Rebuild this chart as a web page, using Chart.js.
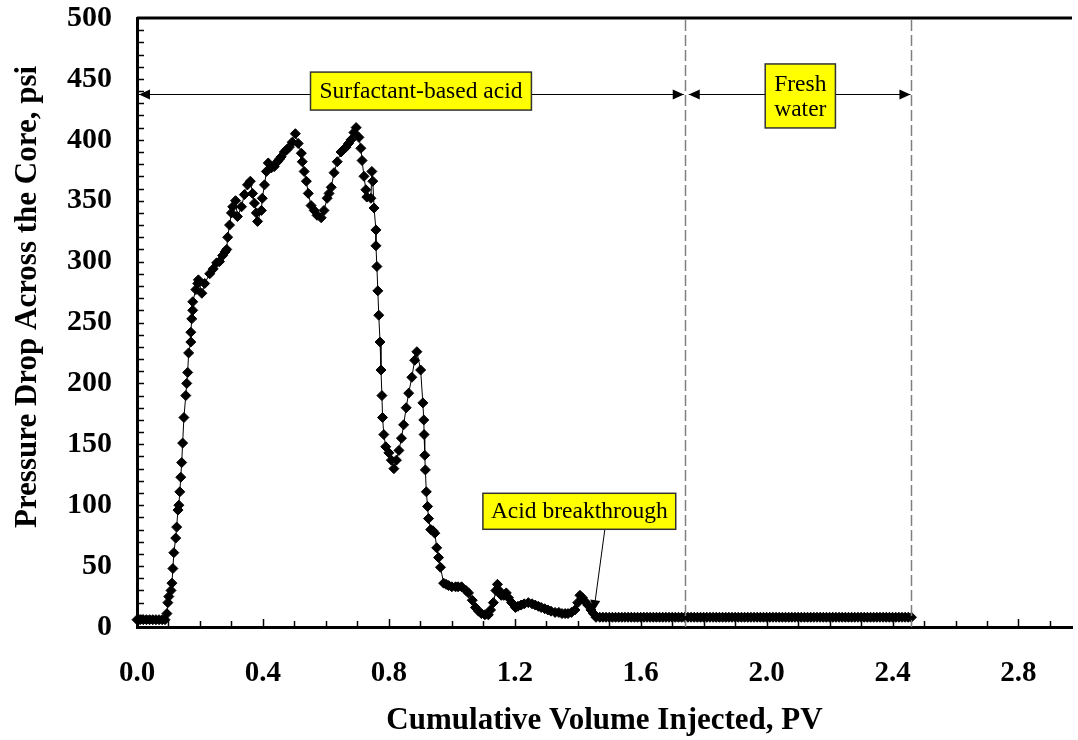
<!DOCTYPE html>
<html>
<head>
<meta charset="utf-8">
<title>Pressure drop across the core</title>
<script src="https://cdn.jsdelivr.net/npm/chart.js@4.4.0/dist/chart.umd.min.js"></script>
<style>
  html, body { margin: 0; padding: 0; background: #fff; }
</style>
</head>
<body>
<canvas id="chart" width="1078" height="740"></canvas>
<script>
var serif = '"Liberation Serif", "Times New Roman", serif';

// cumulative volume injected, PV
var pvInjected = [
  0.000, 0.010, 0.020, 0.030, 0.040, 0.050, 0.060, 0.070, 0.080, 0.089,
  0.095, 0.098, 0.101, 0.108, 0.111, 0.114, 0.117, 0.123, 0.126, 0.130,
  0.133, 0.136, 0.139, 0.142, 0.145, 0.149, 0.155, 0.158, 0.161, 0.164,
  0.171, 0.171, 0.174, 0.177, 0.177, 0.187, 0.193, 0.195, 0.206, 0.215,
  0.231, 0.242, 0.253, 0.262, 0.272, 0.280, 0.285, 0.288, 0.294, 0.300,
  0.304, 0.313, 0.319, 0.332, 0.341, 0.351, 0.360, 0.367, 0.373, 0.379,
  0.383, 0.395, 0.398, 0.405, 0.411, 0.417, 0.427, 0.436, 0.446, 0.452,
  0.458, 0.468, 0.476, 0.484, 0.493, 0.503, 0.512, 0.522, 0.525, 0.531,
  0.538, 0.544, 0.553, 0.563, 0.572, 0.585, 0.594, 0.604, 0.610, 0.617,
  0.626, 0.636, 0.648, 0.656, 0.664, 0.672, 0.680, 0.689, 0.696, 0.705,
  0.711, 0.715, 0.721, 0.727, 0.730, 0.743, 0.746, 0.749, 0.753, 0.759,
  0.759, 0.762, 0.765, 0.768, 0.772, 0.775, 0.778, 0.780, 0.784, 0.790,
  0.800, 0.808, 0.816, 0.824, 0.832, 0.840, 0.847, 0.855, 0.863, 0.873,
  0.882, 0.889, 0.901, 0.908, 0.911, 0.912, 0.914, 0.916, 0.919, 0.923,
  0.926, 0.933, 0.940, 0.946, 0.952, 0.958, 0.964, 0.974, 0.982, 0.990,
  1.000, 1.012, 1.020, 1.031, 1.045, 1.053, 1.065, 1.075, 1.085, 1.094,
  1.105, 1.116, 1.123, 1.132, 1.140, 1.145, 1.150, 1.157, 1.165, 1.173,
  1.180, 1.190, 1.202, 1.210, 1.220, 1.230, 1.243, 1.255, 1.265, 1.275,
  1.284, 1.295, 1.305, 1.315, 1.328, 1.340, 1.350, 1.360, 1.369, 1.380,
  1.391, 1.400, 1.407, 1.415, 1.423, 1.432, 1.442, 1.450, 1.458,
  1.47, 1.48, 1.49, 1.50, 1.51, 1.52, 1.53, 1.54, 1.55, 1.56,
  1.57, 1.58, 1.59, 1.60, 1.61, 1.62, 1.63, 1.64, 1.65, 1.66,
  1.67, 1.68, 1.69, 1.70, 1.71, 1.72, 1.73, 1.74, 1.75, 1.76,
  1.77, 1.78, 1.79, 1.80, 1.81, 1.82, 1.83, 1.84, 1.85, 1.86,
  1.87, 1.88, 1.89, 1.90, 1.91, 1.92, 1.93, 1.94, 1.95, 1.96,
  1.97, 1.98, 1.99, 2.00, 2.01, 2.02, 2.03, 2.04, 2.05, 2.06,
  2.07, 2.08, 2.09, 2.10, 2.11, 2.12, 2.13, 2.14, 2.15, 2.16,
  2.17, 2.18, 2.19, 2.20, 2.21, 2.22, 2.23, 2.24, 2.25, 2.26,
  2.27, 2.28, 2.29, 2.30, 2.31, 2.32, 2.33, 2.34, 2.35, 2.36,
  2.37, 2.38, 2.39, 2.40, 2.41, 2.42, 2.43, 2.44, 2.45, 2.46
];

// pressure drop across the core, psi
var pressureDrop = [
  6, 6, 6, 6, 6, 6, 6, 6, 6, 6,
  11, 20, 25, 30, 36, 48, 61, 73, 82, 96,
  100, 111, 123, 135, 151, 172, 190, 200, 209, 225,
  234, 242, 253, 260, 267, 277, 282, 285, 274, 282,
  290, 294, 299, 300, 305, 308, 310, 320, 330, 340,
  345, 350, 337, 345, 355, 363, 366, 356, 348, 340,
  333, 342, 352, 363, 374, 381, 377, 378, 382, 384,
  386, 390, 392, 394, 398, 405, 397, 389, 382, 374,
  366, 356, 346, 342, 338, 336, 342, 352, 356, 361,
  373, 382, 390, 392, 394, 397, 400, 406, 410, 402,
  393, 383, 370, 359, 353, 352, 374, 366, 344, 326,
  313, 296, 276, 256, 234, 211, 190, 172, 158, 148,
  143, 137, 130, 137, 145, 155, 166, 180, 192, 205,
  219, 226, 211, 184, 170, 158, 141, 129, 111, 99,
  89, 80, 79, 77, 65, 57, 49, 36, 35, 34,
  33, 33, 33, 33, 30, 28, 22, 16, 13, 11,
  10, 10, 14, 20, 30, 35, 30, 26, 26, 28,
  24, 20, 16, 17, 18, 19, 20, 19, 18, 17,
  16, 15, 14, 13, 12, 12, 11, 11, 11, 12,
  14, 20, 26, 24, 21, 18, 14, 11, 8,
  8, 8, 8, 8, 8, 8, 8, 8, 8, 8,
  8, 8, 8, 8, 8, 8, 8, 8, 8, 8,
  8, 8, 8, 8, 8, 8, 8, 8, 8, 8,
  8, 8, 8, 8, 8, 8, 8, 8, 8, 8,
  8, 8, 8, 8, 8, 8, 8, 8, 8, 8,
  8, 8, 8, 8, 8, 8, 8, 8, 8, 8,
  8, 8, 8, 8, 8, 8, 8, 8, 8, 8,
  8, 8, 8, 8, 8, 8, 8, 8, 8, 8,
  8, 8, 8, 8, 8, 8, 8, 8, 8, 8,
  8, 8, 8, 8, 8, 8, 8, 8, 8, 8
];

var xTickValues = [0, 0.4, 0.8, 1.2, 1.6, 2.0, 2.4, 2.8];
var yTickValues = [0, 50, 100, 150, 200, 250, 300, 350, 400, 450, 500];

// stage boundaries (PV) and their labels
var stageEdges = [0, 1.74, 2.46];
var stageArrowLevel = 438;
var stageLabels = [['Surfactant-based acid'], ['Fresh', 'water']];
var stageLabelPos = [[0.902, 440], [2.107, 436]];

var breakthroughText = 'Acid breakthrough';
var breakthroughPos = [1.405, 95];
var breakthroughArrow = [[1.486, 80], [1.451, 13]];

function arrowHead(ctx, x, y, angle) {
  ctx.save();
  ctx.translate(x, y);
  ctx.rotate(angle);
  ctx.beginPath();
  ctx.moveTo(0, 0);
  ctx.lineTo(-11, -5);
  ctx.lineTo(-11, 5);
  ctx.closePath();
  ctx.fill();
  ctx.restore();
}

function arrowLine(ctx, x1, y1, x2, y2, startHead, endHead) {
  var angle = Math.atan2(y2 - y1, x2 - x1);
  ctx.beginPath();
  ctx.moveTo(x1, y1);
  ctx.lineTo(x2, y2);
  ctx.stroke();
  if (startHead) arrowHead(ctx, x1, y1, angle + Math.PI);
  if (endHead) arrowHead(ctx, x2, y2, angle);
}

function labelBox(ctx, cx, cy, lines, padX, height) {
  var lineGap = 25, w = 0;
  ctx.font = '23.5px ' + serif;
  lines.forEach(function(l) { w = Math.max(w, ctx.measureText(l).width); });
  w += padX * 2;
  ctx.fillStyle = '#ffff00';
  ctx.strokeStyle = '#333';
  ctx.lineWidth = 1.5;
  ctx.fillRect(cx - w / 2, cy - height / 2, w, height);
  ctx.strokeRect(cx - w / 2, cy - height / 2, w, height);
  ctx.fillStyle = '#000';
  ctx.textAlign = 'center';
  ctx.textBaseline = 'middle';
  lines.forEach(function(l, i) {
    ctx.fillText(l, cx, cy + (i - (lines.length - 1) / 2) * lineGap + 1);
  });
}

var annotations = {
  id: 'annotations',
  afterDraw: function(chart) {
    var ctx = chart.ctx,
      area = chart.chartArea,
      xs = chart.scales.x,
      ys = chart.scales.y,
      v;

    ctx.save();

    // frame top line
    ctx.strokeStyle = '#000';
    ctx.lineWidth = 3;
    ctx.beginPath();
    ctx.moveTo(area.left, area.top);
    ctx.lineTo(area.right, area.top);
    ctx.stroke();

    // inward ticks
    ctx.lineWidth = 1.5;
    for (v = 1; v <= 29; v++) {
      var px = Math.round(xs.getPixelForValue(v / 10)) + 0.5;
      var len = (v % 4 === 0) ? 8 : 6;
      ctx.beginPath();
      ctx.moveTo(px, area.bottom);
      ctx.lineTo(px, area.bottom - len);
      ctx.stroke();
    }
    for (v = 10; v < 500; v += 10) {
      var py = Math.round(ys.getPixelForValue(v)) + 0.5;
      ctx.beginPath();
      ctx.moveTo(area.left, py);
      ctx.lineTo(area.left + 7, py);
      ctx.stroke();
    }

    // dashed stage boundaries
    ctx.strokeStyle = '#7f7f7f';
    ctx.lineWidth = 1.5;
    ctx.setLineDash([11, 4]);
    stageEdges.slice(1).forEach(function(e) {
      var x = Math.round(xs.getPixelForValue(e)) + 0.5;
      ctx.beginPath();
      ctx.moveTo(x, area.top + 2);
      ctx.lineTo(x, area.bottom);
      ctx.stroke();
    });
    ctx.setLineDash([]);

    // stage arrows
    ctx.strokeStyle = '#000';
    ctx.fillStyle = '#000';
    ctx.lineWidth = 1;
    var ay = Math.round(ys.getPixelForValue(stageArrowLevel)) + 0.5;
    for (var s = 0; s < stageEdges.length - 1; s++) {
      var x1 = xs.getPixelForValue(stageEdges[s]) + 2;
      var x2 = xs.getPixelForValue(stageEdges[s + 1]) - 1;
      if (s > 0) x1 += 2;
      arrowLine(ctx, x1, ay, x2, ay, true, true);
    }

    labelBox(ctx, xs.getPixelForValue(stageLabelPos[0][0]), ys.getPixelForValue(stageLabelPos[0][1]),
      stageLabels[0], 9, 38);
    labelBox(ctx, xs.getPixelForValue(stageLabelPos[1][0]), ys.getPixelForValue(stageLabelPos[1][1]),
      stageLabels[1], 9, 64);

    // breakthrough note
    ctx.strokeStyle = '#000';
    ctx.fillStyle = '#000';
    ctx.lineWidth = 1;
    arrowLine(ctx,
      xs.getPixelForValue(breakthroughArrow[0][0]), ys.getPixelForValue(breakthroughArrow[0][1]),
      xs.getPixelForValue(breakthroughArrow[1][0]), ys.getPixelForValue(breakthroughArrow[1][1]),
      false, true);
    labelBox(ctx, xs.getPixelForValue(breakthroughPos[0]), ys.getPixelForValue(breakthroughPos[1]),
      [breakthroughText], 8, 36);

    // y axis title
    ctx.translate(28, 297);
    ctx.rotate(-Math.PI / 2);
    ctx.font = 'bold 31px ' + serif;
    ctx.fillStyle = '#000';
    ctx.textAlign = 'center';
    ctx.textBaseline = 'middle';
    ctx.fillText('Pressure Drop Across the Core, psi', 0, 0);

    ctx.restore();
  }
};

var points = pvInjected.map(function(pv, i) {
  return { x: pv, y: pressureDrop[i] };
});

new Chart(document.getElementById('chart').getContext('2d'), {
  type: 'scatter',
  data: {
    datasets: [{
      data: points,
      showLine: true,
      clip: false,
      borderColor: '#000',
      borderWidth: 1,
      pointStyle: 'rectRot',
      pointRadius: 5,
      pointBackgroundColor: '#000',
      pointBorderColor: '#000',
      pointBorderWidth: 1
    }]
  },
  options: {
    responsive: false,
    animation: false,
    layout: { padding: { left: 0, right: 0, top: 18, bottom: 0 } },
    plugins: {
      legend: { display: false },
      tooltip: { enabled: false }
    },
    scales: {
      x: {
        type: 'linear',
        min: 0,
        max: 2.97,
        grid: { display: false, drawTicks: false },
        border: { display: true, color: '#000', width: 3 },
        afterBuildTicks: function(scale) {
          scale.ticks = xTickValues.map(function(v) { return { value: v }; });
        },
        afterFit: function(scale) { scale.height = 113; },
        ticks: {
          autoSkip: false,
          maxRotation: 0,
          padding: 29,
          color: '#000',
          font: { family: serif, size: 29, weight: 'bold' },
          callback: function(v) { return Number(v).toFixed(1); }
        },
        title: {
          display: true,
          text: 'Cumulative Volume Injected, PV',
          color: '#000',
          padding: { top: 0, bottom: 0 },
          font: { family: serif, size: 31, weight: 'bold' }
        }
      },
      y: {
        min: 0,
        max: 500,
        grid: { display: false, drawTicks: false },
        border: { display: true, color: '#000', width: 3 },
        afterBuildTicks: function(scale) {
          scale.ticks = yTickValues.map(function(v) { return { value: v }; });
        },
        afterFit: function(scale) {
          scale.width = 137;
          scale.paddingTop = 0;
          scale.paddingBottom = 0;
        },
        ticks: {
          padding: 25,
          color: '#000',
          font: { family: serif, size: 30, weight: 'bold' }
        }
      }
    }
  },
  plugins: [annotations]
});
</script>
</body>
</html>
